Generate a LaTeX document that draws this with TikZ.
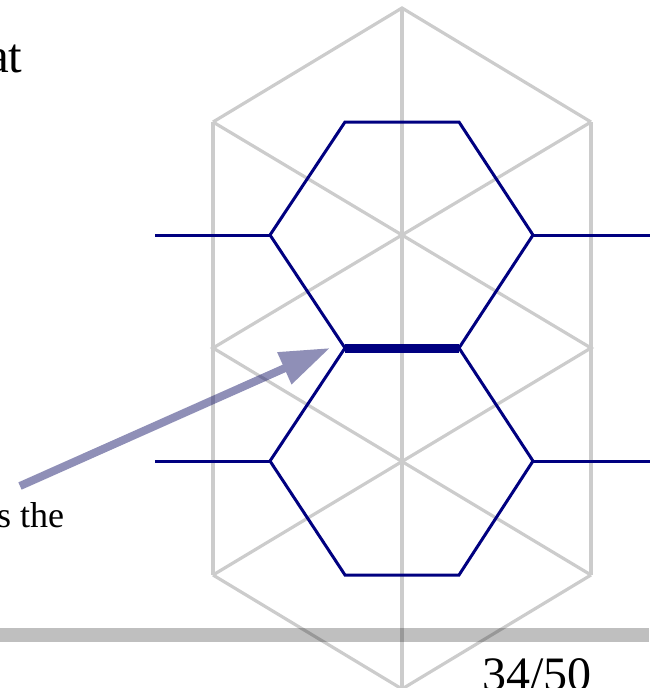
\documentclass[tikz,border=0pt]{standalone}
\usepackage{fontspec}
\setmainfont{Liberation Serif}
\usetikzlibrary{arrows.meta}
\definecolor{hexblue}{RGB}{0,0,128}
\definecolor{gridgray}{RGB}{204,204,204}
\definecolor{pointerblue}{RGB}{32,32,112}
\tikzset{
  gridline/.style={draw=gridgray, line width=3.2pt},
  hexline/.style={draw=hexblue, line width=3pt, line join=miter},
  bondline/.style={draw=hexblue, line width=9pt},
  pointer/.style={-{Triangle[length=50pt,width=33pt]}, draw=pointerblue, fill=pointerblue, line width=8pt},
  slidetext/.style={inner sep=0pt, anchor=base west},
}

\begin{document}
\begin{tikzpicture}[x=1pt, y=-1pt]
  \useasboundingbox (0,0) rectangle (649,688);
  % triangular grid
  \coordinate (gT) at (402,8);
  \coordinate (gUL) at (213,122);
  \coordinate (gUR) at (591,122);
  \coordinate (gC1) at (402,235);
  \coordinate (gML) at (213,348);
  \coordinate (gMR) at (591,348);
  \coordinate (gC2) at (402,461);
  \coordinate (gLL) at (213,575);
  \coordinate (gLR) at (591,575);
  \coordinate (gB) at (402,689);
  \draw[gridline] (gUL) -- (gT) -- (gUR);
  \draw[gridline] (gLL) -- (gB) -- (gLR);
  \draw[gridline] (gUL) -- (gLL);
  \draw[gridline] (gUR) -- (gLR);
  \draw[gridline] (gT) -- (gB);
  \draw[gridline] (gUL) -- (gMR) -- (gLL);
  \draw[gridline] (gUR) -- (gML) -- (gLR);
  % hexagons
  \coordinate (h1) at (345,122);
  \coordinate (h2) at (459,122);
  \coordinate (h3) at (533,235);
  \coordinate (h4) at (459,348);
  \coordinate (h5) at (345,348);
  \coordinate (h6) at (270,235);
  \coordinate (k3) at (533,461);
  \coordinate (k4) at (459,575);
  \coordinate (k5) at (345,575);
  \coordinate (k6) at (270,461);
  \coordinate (s1) at (155,235);
  \coordinate (s2) at (651,235);
  \coordinate (s3) at (155,461);
  \coordinate (s4) at (651,461);
  \draw[hexline] (h1) -- (h2) -- (h3) -- (h4) -- (h5) -- (h6) -- cycle;
  \draw[hexline] (h5) -- (h4) -- (k3) -- (k4) -- (k5) -- (k6) -- cycle;
  \draw[hexline] (s1) -- (h6);
  \draw[hexline] (h3) -- (s2);
  \draw[hexline] (s3) -- (k6);
  \draw[hexline] (k3) -- (s4);
  \draw[bondline] (h5) -- (h4);
  % arrow
  \coordinate (tail) at (20,486);
  \coordinate (tip) at (330,348);
  \begin{scope}[transparency group, opacity=0.5]
    \draw[pointer] (tail) -- (tip);
  \end{scope}
  % footer bar
  \fill[black, opacity=0.25] (0,628) rectangle (649,642);
  % texts
  \node[slidetext, font=\fontsize{49}{54}\selectfont] (title) at (-13,72) {at};
  \node[slidetext, font=\fontsize{36}{42}\selectfont] (body) at (-3,527) {s the};
  \node[slidetext, font=\fontsize{48}{54}\selectfont] (page) at (482,690) {34/50};
\end{tikzpicture}
\end{document}
